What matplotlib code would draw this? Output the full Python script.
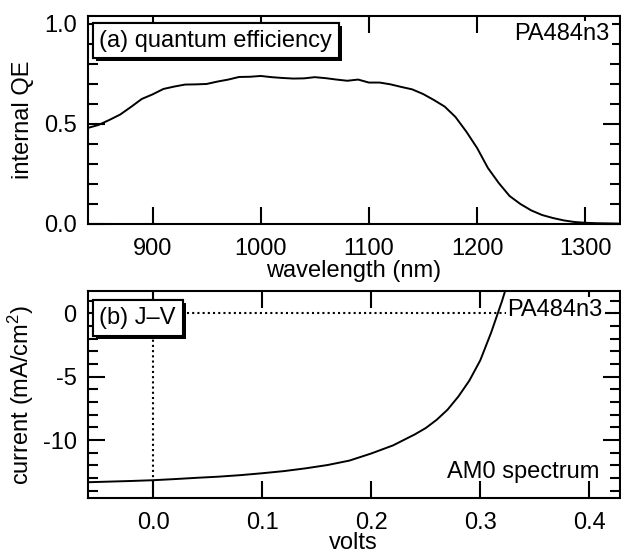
import matplotlib
matplotlib.use('Agg')
import matplotlib.pyplot as plt
import matplotlib.patheffects as pe
from matplotlib.ticker import MultipleLocator, FormatStrFormatter

plt.rcParams['font.family'] = 'Liberation Sans'
plt.rcParams['font.size'] = 17
plt.rcParams['axes.unicode_minus'] = False
plt.rcParams['mathtext.default'] = 'regular'

#! Data: internal QE vs wavelength
wavelength = [840, 850, 860, 870, 880, 890, 900, 910, 920, 930,
              940, 950, 960, 970, 980, 990, 1000, 1010, 1020, 1030,
              1040, 1050, 1060, 1070, 1080, 1090, 1100, 1110, 1120, 1130,
              1140, 1150, 1160, 1170, 1180, 1190, 1200, 1210, 1220, 1230,
              1240, 1250, 1260, 1270, 1280, 1290, 1300, 1310, 1320, 1330]
qe = [0.480, 0.495, 0.520, 0.547, 0.585, 0.625, 0.648, 0.675, 0.687, 0.697,
      0.698, 0.700, 0.712, 0.722, 0.735, 0.736, 0.740, 0.734, 0.730, 0.727,
      0.728, 0.734, 0.729, 0.722, 0.716, 0.722, 0.707, 0.707, 0.698, 0.685,
      0.673, 0.650, 0.620, 0.587, 0.535, 0.462, 0.380, 0.280, 0.205, 0.140,
      0.100, 0.068, 0.045, 0.030, 0.018, 0.010, 0.006, 0.004, 0.003, 0.002]

#! Data: J-V curve under AM0
volts = [-0.06, -0.04, -0.02, 0.0, 0.02, 0.04, 0.06, 0.08, 0.10, 0.12,
         0.14, 0.16, 0.18, 0.20, 0.22, 0.24, 0.25, 0.26, 0.27, 0.28,
         0.29, 0.30, 0.31, 0.32, 0.33]
current = [-13.33, -13.28, -13.23, -13.17, -13.08, -12.98, -12.89, -12.77, -12.62, -12.45,
           -12.23, -11.97, -11.62, -11.06, -10.42, -9.55, -9.05, -8.40, -7.60, -6.55,
           -5.30, -3.70, -1.50, 1.00, 3.80]

sample = 'PA484n3'


def style_axis(ax, xpad):
    for s in ax.spines.values():
        s.set_linewidth(1.5)
    ax.tick_params(which='both', direction='in', top=True, right=True, width=1.5)
    ax.tick_params(which='major', length=12, pad=8)
    ax.tick_params(which='minor', length=7)
    ax.tick_params(axis='x', pad=xpad)


def label_box(ax, x, y, text):
    t = ax.text(x, y, text, transform=ax.transAxes, ha='left', va='center', zorder=5,
                bbox=dict(boxstyle='square,pad=0.28', fc='white', ec='black', lw=1.5))
    t.get_bbox_patch().set_path_effects(
        [pe.withSimplePatchShadow(offset=(2.2, -2.2), shadow_rgbFace='black', alpha=1.0), pe.Normal()])


def sample_tag(ax, x, y):
    ax.text(x, y, sample, transform=ax.transAxes, ha='right', va='baseline', zorder=4,
            bbox=dict(boxstyle='square,pad=0.08', fc='white', ec='none'))


fig = plt.figure(figsize=(6.21, 5.54), dpi=100)

#! (a) quantum efficiency
ax1 = fig.add_axes([0.1412, 0.5957, 0.857, 0.3755])
ax1.plot(wavelength, qe, color='black', lw=1.4)
ax1.set_xlim(840, 1332)
ax1.set_ylim(0, 1.04)
ax1.xaxis.set_major_locator(MultipleLocator(100))
ax1.yaxis.set_major_locator(MultipleLocator(0.5))
ax1.yaxis.set_minor_locator(MultipleLocator(0.1))
ax1.yaxis.set_major_formatter(FormatStrFormatter('%.1f'))
style_axis(ax1, 10)
ax1.set_xlabel('wavelength (nm)', labelpad=0)
ax1.set_ylabel('internal QE', labelpad=7)
label_box(ax1, 0.022, 0.881, '(a) quantum efficiency')
sample_tag(ax1, 0.981, 0.885)

#! (b) J-V
ax2 = fig.add_axes([0.1412, 0.1005, 0.857, 0.3742])
ax2.axhline(0, color='black', lw=1.5, ls=(0, (1, 1.5)))
ax2.axvline(0, color='black', lw=1.5, ls=(0, (1, 1.5)))
ax2.plot(volts, current, color='black', lw=1.4)
ax2.set_xlim(-0.06, 0.428)
ax2.set_ylim(-14.6, 1.77)
ax2.xaxis.set_major_locator(MultipleLocator(0.1))
ax2.yaxis.set_major_locator(MultipleLocator(5))
ax2.yaxis.set_minor_locator(MultipleLocator(1))
ax2.xaxis.set_major_formatter(FormatStrFormatter('%.1f'))
style_axis(ax2, 9.7)
ax2.set_xlabel('volts', labelpad=-1)
ax2.set_ylabel('current (mA/cm$^{2}$)', labelpad=5)
label_box(ax2, 0.022, 0.870, '(b) J\u2013V')
sample_tag(ax2, 0.968, 0.879)
ax2.text(0.961, 0.0965, 'AM0 spectrum', transform=ax2.transAxes, ha='right', va='baseline')

fig.savefig('out.png', dpi=100)
